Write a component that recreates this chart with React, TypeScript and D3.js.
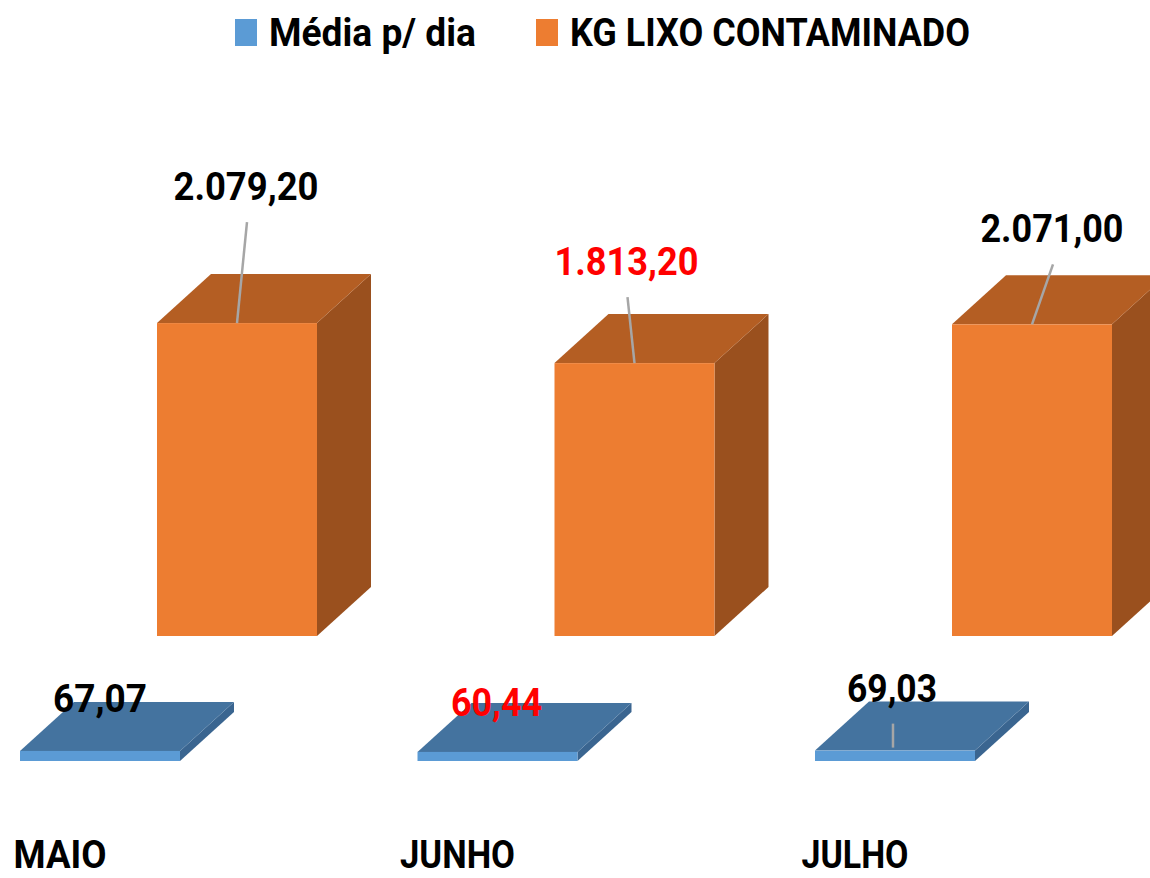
import React, { useEffect, useRef } from 'react';
import * as d3 from 'd3';

// chart data
const categories = ['MAIO', 'JUNHO', 'JULHO'];
const seriesNames = ['Média p/ dia', 'KG LIXO CONTAMINADO'];
const mediaDia = [67.07, 60.44, 69.03];
const kgLixo = [2079.2, 1813.2, 2071.0];
const highlighted = 'JUNHO';

const fmt = (v: number) =>
  v.toLocaleString('pt-BR', { minimumFractionDigits: 2, maximumFractionDigits: 2 });

// manually dragged label placement (offset from bar top-front centre: dx, dy of baseline, leader?)
const labelPlacement: [number, number, boolean][][] = [
  [[0, -39, false], [-1, -36, false], [-3, -49, true]],
  [[9, -123, true], [-8, -88, true], [20, -82, true]],
];

// target widths to mimic the narrow Calibri look
const textWidths: Record<string, number> = {
  '2.079,20': 145, '1.813,20': 144, '2.071,00': 143,
  '67,07': 94, '60,44': 91, '69,03': 90,
  MAIO: 93, JUNHO: 115, JULHO: 107,
  'Média p/ dia': 207, 'KG LIXO CONTAMINADO': 400,
};

const W = 1150;
const H = 878;
const FONT = 'Roboto, "Open Sans", sans-serif';

const palette = [
  { front: '#5B9BD5', top: '#44739F', side: '#3A6590' },
  { front: '#ED7D31', top: '#B45E23', side: '#9A501E' },
];

export default function App() {
  const svgRef = useRef<SVGSVGElement>(null);

  useEffect(() => {
    if (!svgRef.current) return;
    const svg = d3.select(svgRef.current);
    svg.selectAll('*').remove();

    const baseY = 761;
    const step = 397.5;
    const inner = 0.5975;
    const x = d3.scaleBand<string>()
      .domain(categories)
      .range([20, 20 + step * (categories.length - inner)])
      .paddingInner(inner)
      .paddingOuter(0);
    const bw = x.bandwidth();

    // series laid out in depth (front row first)
    const depth = d3.scalePoint<string>().domain(seriesNames).range([0, 1]);
    const rowDx = 137;
    const rowDy = -125;
    const boxDx = 54;
    const boxDy = -49;

    const y = d3.scaleLinear().domain([0, 2500]).range([0, 376.25]);

    const values = [mediaDia, kgLixo];

    const addText = (
      g: d3.Selection<SVGGElement, unknown, null, undefined>,
      txt: string, tx: number, ty: number, size: number, fill: string,
      anchor: string = 'middle'
    ) => {
      const t = g.append('text')
        .attr('x', tx)
        .attr('y', ty)
        .attr('text-anchor', anchor)
        .attr('fill', fill)
        .style('font-family', FONT)
        .style('font-weight', '700')
        .style('font-size', `${size}px`)
        .text(txt);
      if (textWidths[txt]) {
        t.attr('textLength', textWidths[txt]).attr('lengthAdjust', 'spacingAndGlyphs');
      }
      return t;
    };

    const bars = svg.append('g');
    const labels = svg.append('g');

    // draw back row first
    [...seriesNames].reverse().forEach((name) => {
      const s = seriesNames.indexOf(name);
      const d = depth(name) || 0;
      const ox = d * rowDx;
      const oy = d * rowDy;
      const col = palette[s];

      categories.forEach((cat, i) => {
        const v = values[s][i];
        const x0 = (x(cat) || 0) + ox;
        const x1 = x0 + bw;
        const yb = baseY + oy;
        const yt = yb - y(v);
        const g = bars.append('g');

        g.append('polygon')
          .attr('points', [[x1, yt], [x1 + boxDx, yt + boxDy], [x1 + boxDx, yb + boxDy], [x1, yb]].join(' '))
          .attr('fill', col.side);
        g.append('polygon')
          .attr('points', [[x0, yt], [x0 + boxDx, yt + boxDy], [x1 + boxDx, yt + boxDy], [x1, yt]].join(' '))
          .attr('fill', col.top);
        g.append('rect')
          .attr('x', x0)
          .attr('y', yt)
          .attr('width', bw)
          .attr('height', yb - yt)
          .attr('fill', col.front);

        const [ldx, ldy, leader] = labelPlacement[s][i];
        const cx = x0 + bw / 2;
        const lx = cx + ldx;
        const ly = yt + ldy;
        if (leader) {
          labels.append('line')
            .attr('x1', lx + 1)
            .attr('y1', ly + 22)
            .attr('x2', s === 0 ? lx + 1 : cx)
            .attr('y2', s === 0 ? yt - 3 : yt)
            .attr('stroke', '#A6A6A6')
            .attr('stroke-width', 2.5);
        }
        addText(labels, fmt(v), lx, ly, 38, cat === highlighted ? '#FF0000' : '#000000');
      });
    });

    // category axis labels
    const axis = svg.append('g');
    categories.forEach((cat) => {
      addText(axis, cat, (x(cat) || 0) + bw / 2 - 40, 868, 38, '#000000');
    });

    // legend
    const legend = svg.append('g');
    const legendX = [235, 536];
    seriesNames.forEach((name, s) => {
      legend.append('rect')
        .attr('x', legendX[s])
        .attr('y', 19)
        .attr('width', 22)
        .attr('height', 27)
        .attr('fill', palette[s].front);
      addText(legend, name, legendX[s] + 34, 46, 38, '#000000', 'start');
    });
  }, []);

  return (
    <div style={{ position: 'absolute', left: 0, top: 0, width: W, height: H, background: '#fff' }}>
      <svg ref={svgRef} width={W} height={H} style={{ display: 'block' }} />
    </div>
  );
}
